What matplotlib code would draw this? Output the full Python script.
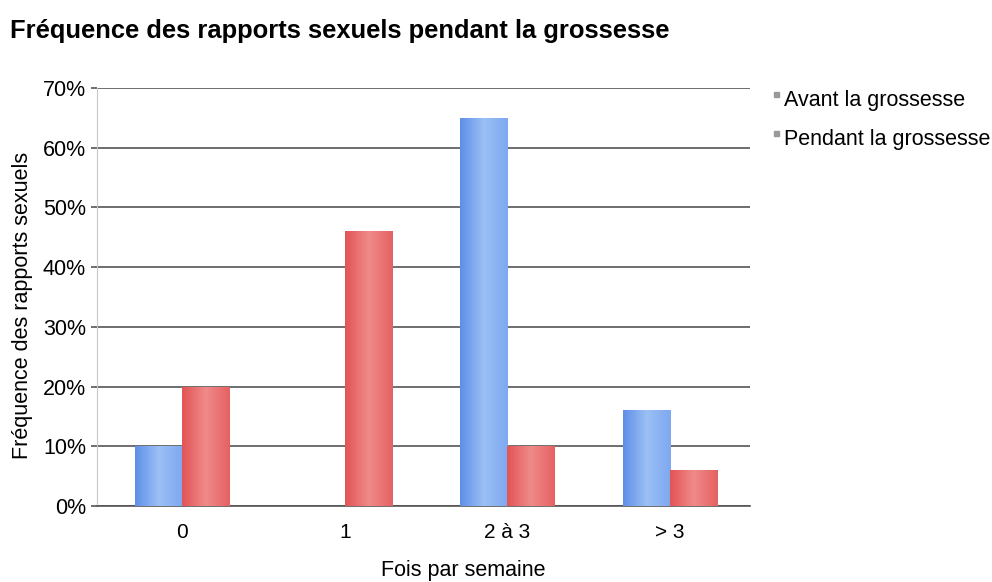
import matplotlib
matplotlib.use("Agg")
import matplotlib.pyplot as plt
from matplotlib.colors import LinearSegmentedColormap
import numpy as np

plt.rcParams['font.family'] = ['Liberation Sans', 'DejaVu Sans']

categories = ["0", "1", "2 à 3", "> 3"]
avant = [10, 0, 65, 16]
pendant = [20, 46, 10, 6]
series_names = ["Avant la grossesse", "Pendant la grossesse"]
yticks = [0, 10, 20, 30, 40, 50, 60, 70]

fig = plt.figure(figsize=(9.92, 5.82), dpi=100)
ax = fig.add_axes([97/992, 1-506/582, 653/992, 418/582])

x = np.arange(len(categories))
w = 0.289
cm_blue = LinearSegmentedColormap.from_list('b', ['#5f8fe6', '#9cc0f6', '#7ea8f0'])
cm_red = LinearSegmentedColormap.from_list('r', ['#e25555', '#f08a8a', '#e56262'])
grad = np.linspace(0, 1, 64).reshape(1, -1)
for vals, off, cm, base in [(avant, -w/2, cm_blue, '#7ea8f0'), (pendant, w/2, cm_red, '#ea6b6b')]:
    bars = ax.bar(x + off, vals, width=w, color=base, zorder=3)
    for b in bars:
        if b.get_height() <= 0:
            continue
        x0, y0 = b.get_x(), b.get_y()
        im = ax.imshow(grad, cmap=cm, aspect='auto', zorder=4,
                       extent=(x0, x0 + b.get_width(), y0, y0 + b.get_height()))
        im.set_clip_path(b)

ax.set_xlim(-0.522, 3.49)
ax.set_ylim(0, 70)
ax.set_yticks(yticks)
ax.set_yticklabels([f"{v}%" for v in yticks], fontsize=15.5)
ax.set_xticks(x)
ax.set_xticklabels(categories, fontsize=15)
ax.tick_params(axis='x', length=0, pad=12)
ax.tick_params(axis='y', length=4, width=1.2, color='#555555', pad=4)
ax.grid(axis='y', color='#555555', lw=1.2, zorder=1)
for s in ['top', 'right']:
    ax.spines[s].set_visible(False)
ax.spines['bottom'].set_color('#555555')
ax.spines['bottom'].set_linewidth(1.2)
ax.spines['left'].set_color('#c8c8c8')

ax.set_xlabel("Fois par semaine", fontsize=15.5)
ax.xaxis.set_label_coords(0.5605, -0.129)
ax.set_ylabel("Fréquence des rapports sexuels", fontsize=15.5)
ax.yaxis.set_label_coords(-0.098, 0.481)

fig.text(10/992, 1-31/582, "Fréquence des rapports sexuels pendant la grossesse",
         fontsize=18.4, fontweight='bold', va='center', ha='left')

for i, name in enumerate(series_names):
    yy = 1 - (100 + 39*i)/582
    fig.text(784/992, yy, name, fontsize=15.5, va='center', ha='left')
    fig.patches.append(plt.Rectangle((774/992, yy + 3/582), 5/992, 5/582,
                                     transform=fig.transFigure, color='#999999'))

fig.savefig("out.png", dpi=100)
